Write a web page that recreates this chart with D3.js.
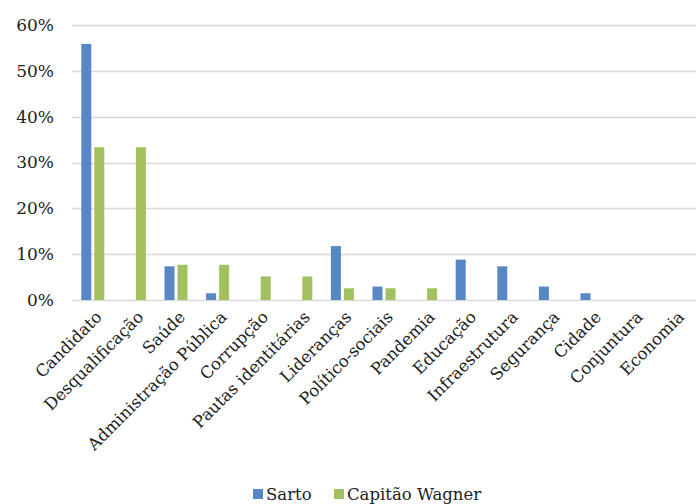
<!DOCTYPE html>
<html>
<head>
<meta charset="utf-8">
<script src="https://cdn.jsdelivr.net/npm/d3@7"></script>
<style>
  html, body { margin: 0; padding: 0; background: #fff; }
  svg text { font-family: "DejaVu Serif", serif; fill: #222; }
</style>
</head>
<body>
<svg id="chart" width="696" height="504"></svg>
<script>
// Topics and the share (%) of each candidate's content devoted to them
const categories = [
  "Candidato", "Desqualificação", "Saúde", "Administração Pública", "Corrupção",
  "Pautas identitárias", "Lideranças", "Político-sociais", "Pandemia", "Educação",
  "Infraestrutura", "Segurança", "Cidade", "Conjuntura", "Economia"
];
const seriesNames = ["Sarto", "Capitão Wagner"];
const sartoValues  = [55.88, 0, 7.35, 1.47, 0, 0, 11.76, 2.94, 0, 8.82, 7.35, 2.94, 1.47, 0, 0];
const wagnerValues = [33.33, 33.33, 7.69, 7.69, 5.13, 5.13, 2.56, 2.56, 2.56, 0, 0, 0, 0, 0, 0];
const yTicks = [0, 10, 20, 30, 40, 50, 60];
const colors = ["#5787C4", "#A2C15E"];

const svg = d3.select("#chart");
const plot = { left: 72, right: 696, top: 25, bottom: 300 };

const x0 = d3.scaleBand()
  .domain(categories)
  .range([plot.left, plot.right])
  .paddingInner(0.447)
  .paddingOuter(0.2235);

const x1 = d3.scaleBand()
  .domain(seriesNames)
  .range([0, x0.bandwidth()])
  .paddingInner(0.231);

const y = d3.scaleLinear().domain([0, 60]).range([plot.bottom, plot.top]);

// Horizontal gridlines
svg.append("g")
  .selectAll("line")
  .data(yTicks)
  .join("line")
  .attr("x1", plot.left)
  .attr("x2", plot.right)
  .attr("y1", d => Math.round(y(d)) + 0.5)
  .attr("y2", d => Math.round(y(d)) + 0.5)
  .attr("stroke", "#d9d9d9")
  .attr("stroke-width", 1.3);

// Y axis labels
const yAxis = svg.append("g")
  .attr("transform", `translate(${plot.left - 18},0)`)
  .call(d3.axisLeft(y).tickValues(yTicks).tickFormat(d => d + "%").tickSize(0).tickPadding(0));
yAxis.select(".domain").remove();
yAxis.selectAll("text")
  .style("font-family", '"DejaVu Serif", serif')
  .style("font-size", "17px")
  .attr("fill", "#222");

// Bars
const rows = categories.map((c, i) => ({ cat: c, vals: [sartoValues[i], wagnerValues[i]] }));
svg.append("g")
  .selectAll("g")
  .data(rows)
  .join("g")
  .attr("transform", d => `translate(${x0(d.cat)},0)`)
  .selectAll("rect")
  .data(d => d.vals.map((v, k) => ({ name: seriesNames[k], v, k })))
  .join("rect")
  .attr("x", d => x1(d.name))
  .attr("width", x1.bandwidth())
  .attr("y", d => y(d.v))
  .attr("height", d => plot.bottom - y(d.v))
  .attr("fill", d => colors[d.k]);

// Rotated category labels
svg.append("g")
  .selectAll("text")
  .data(categories)
  .join("text")
  .attr("transform", d => `translate(${x0(d) + x0.bandwidth() / 2 + 6},${plot.bottom + 14}) rotate(-45)`)
  .attr("text-anchor", "end")
  .attr("dy", "0.35em")
  .style("font-size", "16.5px")
  .text(d => d);

// Legend
const legend = svg.append("g").attr("transform", "translate(253,494)");
const legendX = [0, 81];
seriesNames.forEach((name, k) => {
  const g = legend.append("g").attr("transform", `translate(${legendX[k]},0)`);
  g.append("rect").attr("x", 0).attr("y", -5).attr("width", 10).attr("height", 10).attr("fill", colors[k]);
  g.append("text").attr("x", 13).attr("dy", "0.35em").style("font-size", "16.5px").text(name);
});
</script>
</body>
</html>
